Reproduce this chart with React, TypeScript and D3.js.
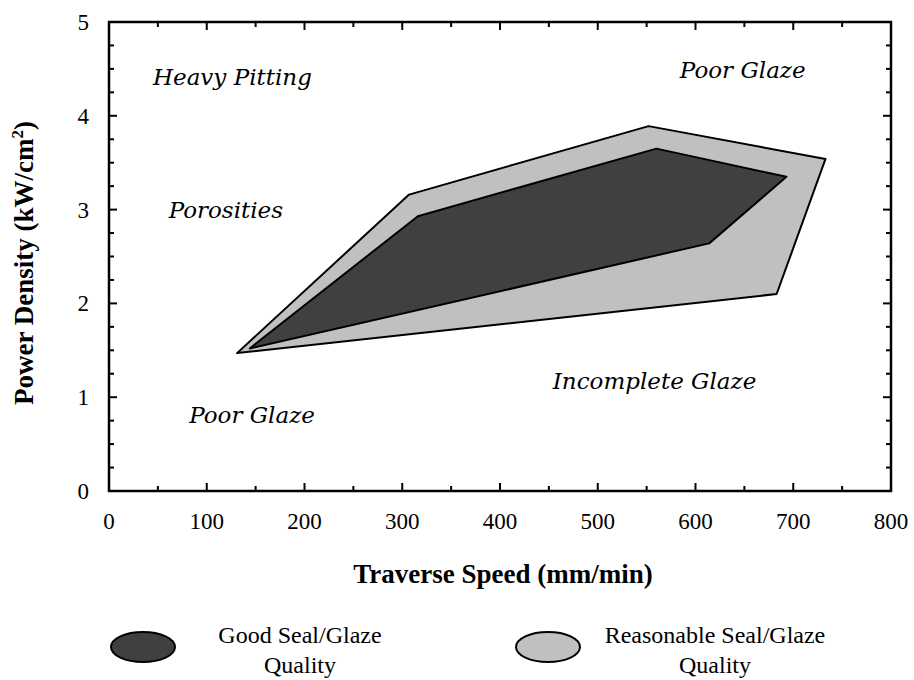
import React from 'react';
import * as d3 from 'd3';

// traverse speed (mm/min), power density (kW/cm2)
const reasonableRegion: [number, number][] = [
  [131, 1.47],
  [307, 3.16],
  [552, 3.89],
  [733, 3.54],
  [683, 2.1],
];
const goodRegion: [number, number][] = [
  [144, 1.52],
  [316, 2.93],
  [560, 3.65],
  [693, 3.35],
  [614, 2.64],
];
const xTicks = [0, 100, 200, 300, 400, 500, 600, 700, 800];
const yTicks = [0, 1, 2, 3, 4, 5];
const regionLabels = [
  { text: 'Heavy Pitting', x: 45, y: 4.33 },
  { text: 'Porosities', x: 61, y: 2.91 },
  { text: 'Poor Glaze', x: 584, y: 4.4 },
  { text: 'Incomplete Glaze', x: 454, y: 1.09 },
  { text: 'Poor Glaze', x: 82, y: 0.72 },
];
const legendItems = [
  { lines: ['Good Seal/Glaze', 'Quality'], fill: '#404040' },
  { lines: ['Reasonable Seal/Glaze', 'Quality'], fill: '#c0c0c0' },
];

export default function App() {
  const width = 914;
  const height = 680;
  const margin = { top: 22, right: 23, bottom: 189, left: 109 };

  const x = d3.scaleLinear().domain([0, 800]).range([margin.left, width - margin.right]);
  const y = d3.scaleLinear().domain([0, 5]).range([height - margin.bottom, margin.top]);

  const line = d3
    .line<[number, number]>()
    .x((d) => x(d[0]))
    .y((d) => y(d[1]))
    .curve(d3.curveLinearClosed);

  const xMinor = d3.range(0, 801, 50);
  const yMinor = d3.range(0, 5.01, 0.25);
  const x0 = x(0), x1 = x(800), y0 = y(0), y1 = y(5);
  const serif = 'Liberation Serif, Times New Roman, Tinos, serif';
  const major = 8;
  const minor = 5;

  return (
    <svg width={width} height={height} style={{ position: 'absolute', left: 0, top: 0, background: '#fff' }}>
      {/* regions */}
      <path d={line(reasonableRegion) || ''} fill="#c0c0c0" stroke="#000" strokeWidth={2} strokeLinejoin="round" />
      <path d={line(goodRegion) || ''} fill="#404040" stroke="#000" strokeWidth={2} strokeLinejoin="round" />

      {/* ticks, inward on all sides */}
      {xMinor.map((v) => {
        const len = v % 100 === 0 ? major : minor;
        return (
          <g key={'xt' + v} stroke="#000" strokeWidth={2}>
            <line x1={x(v)} x2={x(v)} y1={y0} y2={y0 - len} />
            <line x1={x(v)} x2={x(v)} y1={y1} y2={y1 + len} />
          </g>
        );
      })}
      {yMinor.map((v) => {
        const len = Math.abs(v - Math.round(v)) < 1e-6 ? major : minor;
        return (
          <g key={'yt' + v} stroke="#000" strokeWidth={2}>
            <line x1={x0} x2={x0 + len} y1={y(v)} y2={y(v)} />
            <line x1={x1} x2={x1 - len} y1={y(v)} y2={y(v)} />
          </g>
        );
      })}
      <rect x={x0} y={y1} width={x1 - x0} height={y0 - y1} fill="none" stroke="#000" strokeWidth={2.5} />

      {/* tick labels */}
      {xTicks.map((v) => (
        <text key={'xl' + v} x={x(v)} y={y0 + 38} textAnchor="middle" fontFamily={serif} fontSize={23}>
          {v}
        </text>
      ))}
      {yTicks.map((v) => (
        <text key={'yl' + v} x={x0 - 20} y={y(v) + 8} textAnchor="end" fontFamily={serif} fontSize={23}>
          {v}
        </text>
      ))}

      {/* axis titles */}
      <text x={503} y={583} textAnchor="middle" fontFamily={serif} fontSize={27} fontWeight="bold">
        Traverse Speed (mm/min)
      </text>
      <text
        transform="translate(33, 405) rotate(-90)"
        textAnchor="start"
        fontFamily={serif}
        fontSize={27}
        fontWeight="bold"
      >
        Power Density (kW/cm
        <tspan fontSize={17} dy={-10}>2</tspan>
        <tspan dy={10}>)</tspan>
      </text>

      {/* region labels */}
      {regionLabels.map((l, i) => (
        <text key={'rl' + i} x={x(l.x)} y={y(l.y)} fontFamily="DejaVu Serif, serif" fontStyle="italic" fontSize={23}>
          {l.text}
        </text>
      ))}

      {/* legend */}
      {legendItems.map((item, i) => {
        const cx = 143 + i * 405;
        const tx = 300 + i * 415;
        return (
          <g key={'lg' + i}>
            <ellipse cx={cx} cy={647} rx={32} ry={15} fill={item.fill} stroke="#000" strokeWidth={2} />
            {item.lines.map((t, j) => (
              <text key={j} x={tx} y={643 + j * 30} textAnchor="middle" fontFamily={serif} fontSize={24}>
                {t}
              </text>
            ))}
          </g>
        );
      })}
    </svg>
  );
}
